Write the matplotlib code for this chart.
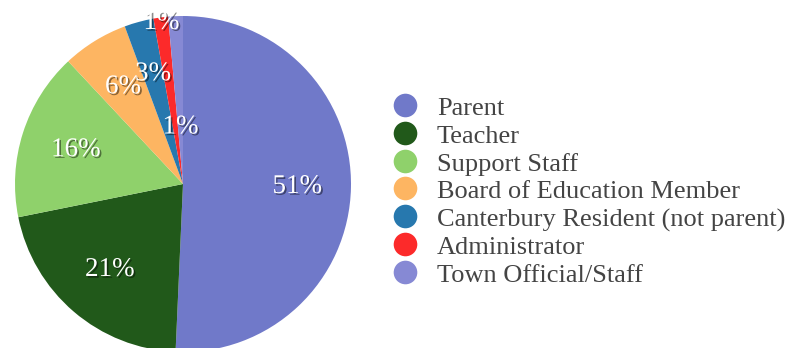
import matplotlib.pyplot as plt
import matplotlib.patheffects as pe
import numpy as np

roles = ['Parent', 'Teacher', 'Support Staff', 'Board of Education Member',
         'Canterbury Resident (not parent)', 'Administrator', 'Town Official/Staff']
counts = [72, 30, 23, 9, 4, 2, 2]
colors = ['#7079c9', '#21591a', '#8fd16b', '#fdb562', '#2778ae', '#fc2a2a', '#8689d4']
# how far out each percentage sits, as a fraction of the radius
label_r = [0.68, 0.67, 0.67, 0.68, 0.68, 0.97, 0.34]

plt.rcParams['font.family'] = ['Liberation Serif', 'DejaVu Serif']

W, H = 807, 348
fig = plt.figure(figsize=(W / 100, H / 100), dpi=100)
ax = fig.add_axes([0, 0, 1, 1])

cx, cy, R = 183, H - 184, 168
wedges, _ = ax.pie(counts, colors=colors, startangle=90, counterclock=False,
                   center=(cx, cy), radius=R,
                   wedgeprops=dict(linewidth=0))

shadow = [pe.SimplePatchShadow(offset=(1.2, -1.2), shadow_rgbFace='black', alpha=0.45),
          pe.Normal()]
total = sum(counts)
for w, c, f in zip(wedges, counts, label_r):
    mid = np.deg2rad((w.theta1 + w.theta2) / 2)
    x = cx + f * R * np.cos(mid)
    y = cy + f * R * np.sin(mid)
    t = ax.text(x, y, f'{100 * c / total:.0f}%', ha='center', va='center',
                fontsize=19.5, color='white')
    t.set_path_effects(shadow)

# legend drawn by hand: dot + label per row
for i, (name, col) in enumerate(zip(roles, colors)):
    yc = H - (105 + i * 27.8)
    ax.plot(405, yc, 'o', ms=17, color=col, mec='none')
    ax.text(437, yc - 10, name, ha='left', va='baseline', fontsize=19, color='#444444')

ax.set_xlim(0, W)
ax.set_ylim(0, H)
ax.set_aspect('equal')
ax.axis('off')

fig.savefig('out.png', dpi=100)
